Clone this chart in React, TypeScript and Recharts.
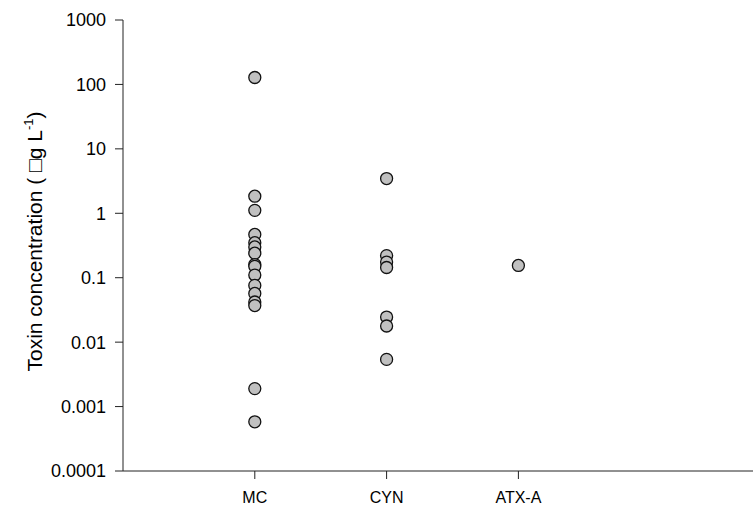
import React from 'react';
import { ScatterChart, Scatter, XAxis, YAxis } from 'recharts';

// toxin categories, placed at x = 1, 2, 3
const categories = ['MC', 'CYN', 'ATX-A'];

// concentrations (µg/L)
const mcValues = [128, 1.84, 1.11, 0.47, 0.35, 0.3, 0.24, 0.16, 0.15, 0.11, 0.076, 0.057, 0.042, 0.037, 0.0019, 0.00058];
const cynValues = [3.46, 0.22, 0.175, 0.144, 0.0245, 0.0178, 0.0054];
const atxValues = [0.155];

const yTicks = [0.0001, 0.001, 0.01, 0.1, 1, 10, 100, 1000];

const toPoints = (vals: number[], idx: number) => vals.map(v => ({ x: idx + 1, y: v }));

const allPoints = [
  ...toPoints(mcValues, 0),
  ...toPoints(cynValues, 1),
  ...toPoints(atxValues, 2),
];

const FONT = '"Liberation Sans", Arial, sans-serif';

const Dot = (props: any) => {
  const { cx, cy } = props;
  if (cx == null || cy == null) return null;
  return <circle cx={cx} cy={cy} r={6} fill="#c0c0c0" stroke="#111" strokeWidth={1.3} />;
};

const YLabel = (props: any) => {
  const vb = props.viewBox || { y: 20, height: 451 };
  const x = 42;
  const y = vb.y + vb.height / 2 - 4;
  return (
    <text
      x={x}
      y={y}
      transform={`rotate(-90, ${x}, ${y})`}
      textAnchor="middle"
      fontSize={21}
      fontFamily={FONT}
      fill="#000"
    >
      Toxin concentration ( {'\u25A1'}g L
      <tspan dy={-9} fontSize={13}>-1</tspan>
      <tspan dy={9}>)</tspan>
    </text>
  );
};

export default function App() {
  return (
    <div style={{ position: 'absolute', left: 0, top: 0, width: 753, height: 509, background: '#fff' }}>
      <ScatterChart width={753} height={509} margin={{ top: 20, right: 0, bottom: 8, left: 8 }}>
        <XAxis
          type="number"
          dataKey="x"
          domain={[0, 4.78]}
          ticks={[1, 2, 3]}
          tickFormatter={(v: number) => categories[v - 1] ?? ''}
          tickSize={8}
          height={30}
          stroke="#222"
          tick={{ fontSize: 16, fill: '#000', fontFamily: FONT, dy: 11 }}
          allowDataOverflow
        />
        <YAxis
          type="number"
          dataKey="y"
          scale="log"
          domain={[0.0001, 1000]}
          ticks={yTicks}
          tickFormatter={(v: number) => String(v)}
          tickSize={8}
          tickMargin={9}
          width={115}
          stroke="#222"
          tick={{ fontSize: 18, fill: '#000', fontFamily: FONT }}
          interval={0}
          allowDataOverflow
          label={{ content: <YLabel /> }}
        />
        <Scatter data={allPoints} shape={<Dot />} isAnimationActive={false} />
      </ScatterChart>
    </div>
  );
}
